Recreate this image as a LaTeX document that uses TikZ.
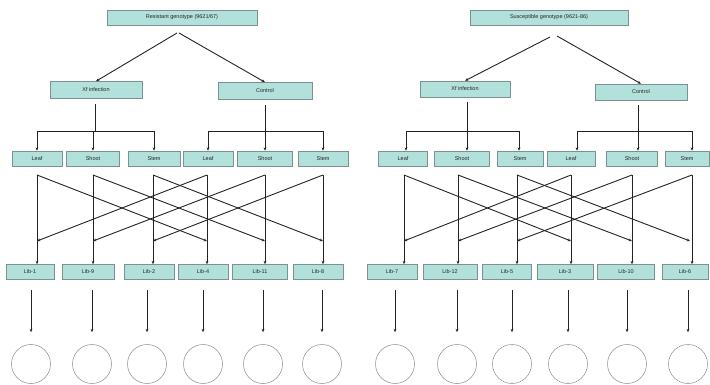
\documentclass[tikz,border=0pt]{standalone}
\usepackage{fontspec}
\setmainfont{Liberation Sans}
\usetikzlibrary{arrows.meta}
\definecolor{boxfill}{RGB}{178,224,218}
\definecolor{boxedge}{RGB}{125,145,145}
\definecolor{lncol}{RGB}{35,35,35}
\tikzset{
  bx/.style={draw=boxedge, line width=0.5pt, fill=boxfill, inner sep=0pt,
             minimum height=15pt, font=\fontsize{5.5}{6.5}\selectfont, text=black!85},
  plain/.style={draw=lncol, line width=0.9pt},
  arr/.style={plain, -{Stealth[length=3.4pt,width=2.8pt]}},
  circ/.style={draw=black!45, line width=0.5pt, circle, minimum size=39pt, inner sep=0pt}
}
\begin{document}
\begin{tikzpicture}[x=1pt,y=-1pt]
\useasboundingbox (0,0) rectangle (710,385);

% ================= LEFT HALF =================
\node[bx, minimum width=150pt] (ltop) at (182,17.5) {Resistant genotype (9621/67)};
\node[bx, minimum width=92pt, minimum height=17pt] (lxf) at (96,90) {Xf infection};
\node[bx, minimum width=94pt, minimum height=17pt] (lct) at (265,91) {Control};
\coordinate (lsplitA) at (177,33);
\coordinate (lsplitB) at (179,33);
\draw[arr] (lsplitA) -- (lxf.north);
\draw[arr] (lsplitB) -- (lct.north);

\node[bx, minimum width=50pt] (lLeafA)  at (37,158.5)  {Leaf};
\node[bx, minimum width=53pt] (lShootA) at (93,158.5)  {Shoot};
\node[bx, minimum width=52pt] (lStemA)  at (154,158.5) {Stem};
\node[bx, minimum width=50pt] (lLeafB)  at (208,158.5) {Leaf};
\node[bx, minimum width=55pt] (lShootB) at (265,158.5) {Shoot};
\node[bx, minimum width=50pt] (lStemB)  at (323,158.5) {Stem};

\coordinate (lhA) at (95,131);
\coordinate (lhB) at (265,131);
\draw[plain] ([yshift=-5pt]lxf.south -| lhA) -- (lhA);
\draw[plain] ([yshift=-5pt]lct.south -| lhB) -- (lhB);
\draw[plain] (lLeafA.north |- lhA) -- (lStemA.north |- lhA);
\draw[plain] (lLeafB.north |- lhB) -- (lStemB.north |- lhB);
\foreach \n in {LeafA,ShootA,StemA} \draw[arr] (l\n.north |- lhA) -- (l\n.north);
\foreach \n in {LeafB,ShootB,StemB} \draw[arr] (l\n.north |- lhB) -- (l\n.north);

\node[bx, minimum width=48pt] (lLib1) at (30,272)  {Lib-1};
\node[bx, minimum width=52pt] (lLib2) at (88,272)  {Lib-9};
\node[bx, minimum width=50pt] (lLib3) at (149,272) {Lib-2};
\node[bx, minimum width=50pt] (lLib4) at (203,272) {Lib-4};
\node[bx, minimum width=55pt] (lLib5) at (260,272) {Lib-11};
\node[bx, minimum width=50pt] (lLib6) at (318,272) {Lib-8};

\coordinate (lt1) at (37,175);  \coordinate (ld1) at (37,241);
\coordinate (lt2) at (93,175);  \coordinate (ld2) at (93,241);
\coordinate (lt3) at (153,175); \coordinate (ld3) at (153,241);
\coordinate (lt4) at (207,175); \coordinate (ld4) at (207,241);
\coordinate (lt5) at (265,175); \coordinate (ld5) at (265,241);
\coordinate (lt6) at (323,175); \coordinate (ld6) at (323,241);
\foreach \i in {1,...,6} \draw[arr] (lt\i) -- (lt\i |- lLib\i.north);
\draw[arr] (lt1) -- (ld4);
\draw[arr] (lt2) -- (ld5);
\draw[arr] (lt3) -- (ld6);
\draw[arr] (lt4) -- (ld1);
\draw[arr] (lt5) -- (ld2);
\draw[arr] (lt6) -- (ld3);

\node[circ] (lC1) at (31,364) {};
\node[circ] (lC2) at (92,364) {};
\node[circ] (lC3) at (147,364) {};
\node[circ] (lC4) at (203,364) {};
\node[circ] (lC5) at (263,364) {};
\node[circ] (lC6) at (322,364) {};
\foreach \i in {1,...,6}
  \draw[arr, shorten <=10pt, shorten >=12pt] (lC\i.north |- lLib\i.south) -- (lC\i.north);

% ================= RIGHT HALF =================
\node[bx, minimum width=158pt] (rtop) at (549,17.5) {Susceptible genotype (9621-86)};
\node[bx, minimum width=90pt, minimum height=16pt] (rxf) at (465,89) {Xf infection};
\node[bx, minimum width=92pt, minimum height=16pt] (rct) at (641,92) {Control};
\coordinate (rsplitA) at (550,37);
\coordinate (rsplitB) at (557,36);
\draw[arr] (rsplitA) -- (rxf.north);
\draw[arr] (rsplitB) -- (rct.north);

\node[bx, minimum width=49pt] (rLeafA)  at (403,158.5) {Leaf};
\node[bx, minimum width=55pt] (rShootA) at (462,158.5) {Shoot};
\node[bx, minimum width=46pt] (rStemA)  at (520,158.5) {Stem};
\node[bx, minimum width=48pt] (rLeafB)  at (571,158.5) {Leaf};
\node[bx, minimum width=51pt] (rShootB) at (632,158.5) {Shoot};
\node[bx, minimum width=44pt] (rStemB)  at (687,158.5) {Stem};

\coordinate (rhA) at (467,131);
\coordinate (rhB) at (638,131);
\draw[plain] ([yshift=-5pt]rxf.south -| rhA) -- (rhA);
\draw[plain] ([yshift=-5pt]rct.south -| rhB) -- (rhB);
\coordinate (rbA1) at (406,131); \coordinate (rbA3) at (519,131);
\coordinate (rbB1) at (577,131); \coordinate (rbB3) at (692,131);
\draw[plain] (rbA1) -- (rbA3);
\draw[plain] (rbB1) -- (rbB3);
\draw[arr] (rbA1) -- (rbA1 |- rLeafA.north);
\draw[arr] (rhA) -- (rhA |- rShootA.north);
\draw[arr] (rbA3) -- (rbA3 |- rStemA.north);
\draw[arr] (rbB1) -- (rbB1 |- rLeafB.north);
\draw[arr] (rhB) -- (rhB |- rShootB.north);
\draw[arr] (rbB3) -- (rbB3 |- rStemB.north);

\node[bx, minimum width=50pt] (rLib1) at (392,272) {Lib-7};
\node[bx, minimum width=54pt] (rLib2) at (450,272) {Lib-12};
\node[bx, minimum width=49pt] (rLib3) at (507,272) {Lib-5};
\node[bx, minimum width=56pt] (rLib4) at (565,272) {Lib-3};
\node[bx, minimum width=57pt] (rLib5) at (626,272) {Lib-10};
\node[bx, minimum width=46pt] (rLib6) at (685,272) {Lib-6};

\coordinate (rt1) at (404,175); \coordinate (rd1) at (404,241);
\coordinate (rt2) at (458,175); \coordinate (rd2) at (458,241);
\coordinate (rt3) at (517,175); \coordinate (rd3) at (517,241);
\coordinate (rt4) at (571,175); \coordinate (rd4) at (571,241);
\coordinate (rt5) at (632,175); \coordinate (rd5) at (632,241);
\coordinate (rt6) at (692,175); \coordinate (rd6) at (690,241);
\foreach \i in {1,...,6} \draw[arr] (rt\i) -- (rt\i |- rLib\i.north);
\draw[arr] (rt1) -- (rd4);
\draw[arr] (rt2) -- (rd5);
\draw[arr] (rt3) -- (rd6);
\draw[arr] (rt4) -- (rd1);
\draw[arr] (rt5) -- (rd2);
\draw[arr] (rt6) -- (rd3);

\node[circ] (rC1) at (395,364) {};
\node[circ] (rC2) at (457,364) {};
\node[circ] (rC3) at (512,364) {};
\node[circ] (rC4) at (568,364) {};
\node[circ] (rC5) at (627,364) {};
\node[circ] (rC6) at (688,364) {};
\foreach \i in {1,...,6}
  \draw[arr, shorten <=10pt, shorten >=12pt] (rC\i.north |- rLib\i.south) -- (rC\i.north);
\end{tikzpicture}
\end{document}
